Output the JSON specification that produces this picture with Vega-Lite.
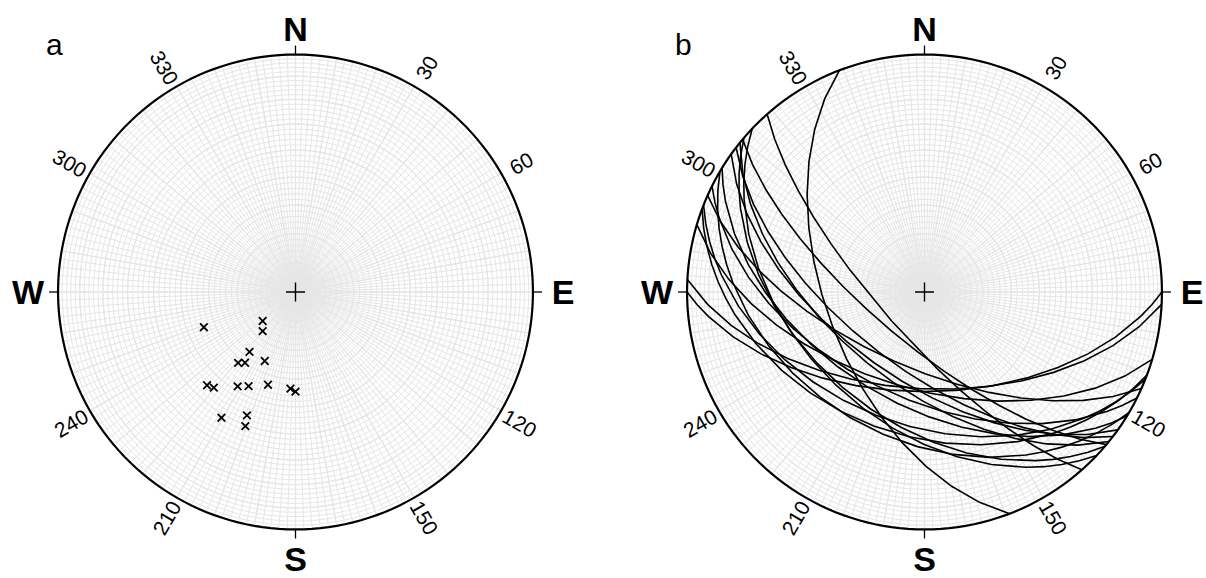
{
  "$schema": "https://vega.github.io/schema/vega-lite/v6.json",
  "padding": 0,
  "spacing": 0,
  "bounds": "flush",
  "background": "white",
  "config": {"view": {"stroke": null}, "font": "Liberation Sans"},
  "datasets": {
    "poles": [
      {"trend": 249, "plunge": 56}, {"trend": 228.5, "plunge": 75}, {"trend": 220, "plunge": 72.5},
      {"trend": 217.5, "plunge": 64}, {"trend": 219, "plunge": 58.5}, {"trend": 215.5, "plunge": 60},
      {"trend": 204, "plunge": 64}, {"trend": 223.5, "plunge": 45}, {"trend": 220.5, "plunge": 46},
      {"trend": 211.5, "plunge": 51.5}, {"trend": 206.5, "plunge": 53.5}, {"trend": 196.5, "plunge": 56.5},
      {"trend": 183, "plunge": 56.5}, {"trend": 180, "plunge": 55.5}, {"trend": 210.5, "plunge": 38.5},
      {"trend": 201.5, "plunge": 43.5}, {"trend": 200.5, "plunge": 39.5}
    ],
    "planes": [
      {"type": "Feature", "properties": {"dipdir": 249, "dip": 56}, "geometry": {"type": "LineString", "coordinates": [[159, 0], [249, 56], [339, 0]]}},
      {"type": "Feature", "properties": {"dipdir": 228.5, "dip": 75}, "geometry": {"type": "LineString", "coordinates": [[138.5, 0], [228.5, 75], [318.5, 0]]}},
      {"type": "Feature", "properties": {"dipdir": 220, "dip": 72.5}, "geometry": {"type": "LineString", "coordinates": [[130, 0], [220, 72.5], [310, 0]]}},
      {"type": "Feature", "properties": {"dipdir": 217.5, "dip": 64}, "geometry": {"type": "LineString", "coordinates": [[127.5, 0], [217.5, 64], [307.5, 0]]}},
      {"type": "Feature", "properties": {"dipdir": 219, "dip": 58.5}, "geometry": {"type": "LineString", "coordinates": [[129, 0], [219, 58.5], [309, 0]]}},
      {"type": "Feature", "properties": {"dipdir": 215.5, "dip": 60}, "geometry": {"type": "LineString", "coordinates": [[125.5, 0], [215.5, 60], [305.5, 0]]}},
      {"type": "Feature", "properties": {"dipdir": 204, "dip": 64}, "geometry": {"type": "LineString", "coordinates": [[114, 0], [204, 64], [294, 0]]}},
      {"type": "Feature", "properties": {"dipdir": 223.5, "dip": 45}, "geometry": {"type": "LineString", "coordinates": [[133.5, 0], [223.5, 45], [313.5, 0]]}},
      {"type": "Feature", "properties": {"dipdir": 220.5, "dip": 46}, "geometry": {"type": "LineString", "coordinates": [[130.5, 0], [220.5, 46], [310.5, 0]]}},
      {"type": "Feature", "properties": {"dipdir": 211.5, "dip": 51.5}, "geometry": {"type": "LineString", "coordinates": [[121.5, 0], [211.5, 51.5], [301.5, 0]]}},
      {"type": "Feature", "properties": {"dipdir": 206.5, "dip": 53.5}, "geometry": {"type": "LineString", "coordinates": [[116.5, 0], [206.5, 53.5], [296.5, 0]]}},
      {"type": "Feature", "properties": {"dipdir": 196.5, "dip": 56.5}, "geometry": {"type": "LineString", "coordinates": [[106.5, 0], [196.5, 56.5], [286.5, 0]]}},
      {"type": "Feature", "properties": {"dipdir": 183, "dip": 56.5}, "geometry": {"type": "LineString", "coordinates": [[93, 0], [183, 56.5], [273, 0]]}},
      {"type": "Feature", "properties": {"dipdir": 180, "dip": 55.5}, "geometry": {"type": "LineString", "coordinates": [[90, 0], [180, 55.5], [270, 0]]}},
      {"type": "Feature", "properties": {"dipdir": 210.5, "dip": 38.5}, "geometry": {"type": "LineString", "coordinates": [[120.5, 0], [210.5, 38.5], [300.5, 0]]}},
      {"type": "Feature", "properties": {"dipdir": 201.5, "dip": 43.5}, "geometry": {"type": "LineString", "coordinates": [[111.5, 0], [201.5, 43.5], [291.5, 0]]}},
      {"type": "Feature", "properties": {"dipdir": 200.5, "dip": 39.5}, "geometry": {"type": "LineString", "coordinates": [[110.5, 0], [200.5, 39.5], [290.5, 0]]}}
    ],
    "cardinal": [
      {"dir": "N", "trend": 0}, {"dir": "E", "trend": 90}, {"dir": "S", "trend": 180}, {"dir": "W", "trend": 270}
    ],
    "degrees": [
      {"deg": 30}, {"deg": 60}, {"deg": 120}, {"deg": 150}, {"deg": 210}, {"deg": 240}, {"deg": 300}, {"deg": 330}
    ],
    "center": [{"trend": 0, "plunge": 90}]
  },
  "hconcat": [
    {
      "width": 629,
      "height": 578,
      "title": {"text": "a", "anchor": "start", "frame": "group", "fontSize": 30, "fontWeight": "normal", "font": "Liberation Sans", "color": "black", "offset": 0, "dx": 46, "dy": 61},
      "projection": {"type": "azimuthalEqualArea", "rotate": [180, -90, 0], "reflectX": true, "clipAngle": 90, "scale": 167.9, "translate": [295.5, 292]},
      "layer": [
        {"data": {"graticule": {"extent": [[-180, 0], [180, 90]], "step": [2, 2]}}, "mark": {"type": "geoshape", "filled": false, "stroke": "#e6e6e6", "strokeWidth": 1}, "encoding": {}},
        {"data": {"graticule": {"extent": [[-180, 0], [180, 90]], "step": [10, 10]}}, "mark": {"type": "geoshape", "filled": false, "stroke": "#e6e6e6", "strokeWidth": 1.3}, "encoding": {}},
        {"data": {"sphere": true}, "mark": {"type": "geoshape", "filled": false, "stroke": "black", "strokeWidth": 2.2}, "encoding": {}},
        {"data": {"name": "cardinal"}, "mark": {"type": "point", "shape": "M0,0L0,-1", "size": 324, "filled": false, "stroke": "black", "strokeWidth": 1.3, "opacity": 1},
         "encoding": {"longitude": {"field": "trend", "type": "quantitative"}, "latitude": {"datum": 0}, "angle": {"field": "trend", "type": "quantitative", "scale": {"domain": [0, 360], "range": [0, 360]}}}},
        {"data": {"name": "cardinal"}, "transform": [{"filter": "datum.trend == 0"}], "mark": {"type": "text", "fontSize": 34, "fontWeight": "bold", "align": "center", "baseline": "middle", "color": "black", "dy": 6},
         "encoding": {"longitude": {"field": "trend", "type": "quantitative"}, "latitude": {"datum": -15.15}, "text": {"field": "dir"}}},
        {"data": {"name": "cardinal"}, "transform": [{"filter": "datum.trend == 180"}], "mark": {"type": "text", "fontSize": 34, "fontWeight": "bold", "align": "center", "baseline": "middle", "color": "black", "dy": 2},
         "encoding": {"longitude": {"field": "trend", "type": "quantitative"}, "latitude": {"datum": -15.15}, "text": {"field": "dir"}}},
        {"data": {"name": "cardinal"}, "transform": [{"filter": "datum.trend % 180 == 90"}], "mark": {"type": "text", "fontSize": 34, "fontWeight": "bold", "align": "center", "baseline": "middle", "color": "black", "dy": 2},
         "encoding": {"longitude": {"field": "trend", "type": "quantitative"}, "latitude": {"datum": -15.6}, "text": {"field": "dir"}}},
        {"data": {"name": "degrees"}, "transform": [{"filter": "datum.deg < 180"}], "mark": {"type": "text", "fontSize": 21, "align": "center", "baseline": "middle", "color": "black", "dy": 3},
         "encoding": {"longitude": {"field": "deg", "type": "quantitative"}, "latitude": {"datum": -11.4}, "text": {"field": "deg", "type": "quantitative"},
           "angle": {"field": "deg", "type": "quantitative", "scale": {"domain": [0, 180], "range": [-90, 90], "zero": false, "nice": false}}}},
        {"data": {"name": "degrees"}, "transform": [{"filter": "datum.deg > 180"}], "mark": {"type": "text", "fontSize": 21, "align": "center", "baseline": "middle", "color": "black", "dy": 3},
         "encoding": {"longitude": {"field": "deg", "type": "quantitative"}, "latitude": {"datum": -11.4}, "text": {"field": "deg", "type": "quantitative"},
           "angle": {"field": "deg", "type": "quantitative", "scale": {"domain": [180, 360], "range": [-90, 90], "zero": false, "nice": false}}}},
        {"data": {"name": "center"}, "mark": {"type": "point", "shape": "M-1,0L1,0M0,-1L0,1", "size": 361, "filled": false, "stroke": "black", "strokeWidth": 1.4, "opacity": 1},
         "encoding": {"longitude": {"field": "trend", "type": "quantitative"}, "latitude": {"field": "plunge", "type": "quantitative"}}},
        {"data": {"name": "poles"}, "mark": {"type": "point", "shape": "M-1,-1L1,1M-1,1L1,-1", "size": 58, "filled": false, "stroke": "black", "strokeWidth": 1.8, "opacity": 1},
         "encoding": {"longitude": {"field": "trend", "type": "quantitative"}, "latitude": {"field": "plunge", "type": "quantitative"}}}
      ],
      "resolve": {"scale": {"angle": "independent"}}
    },
    {
      "width": 577,
      "height": 578,
      "title": {"text": "b", "anchor": "start", "frame": "group", "fontSize": 30, "fontWeight": "normal", "font": "Liberation Sans", "color": "black", "offset": 0, "dx": 46, "dy": 61},
      "projection": {"type": "azimuthalEqualArea", "rotate": [180, -90, 0], "reflectX": true, "clipAngle": 90, "scale": 167.9, "translate": [295.5, 292]},
      "layer": [
        {"data": {"graticule": {"extent": [[-180, 0], [180, 90]], "step": [2, 2]}}, "mark": {"type": "geoshape", "filled": false, "stroke": "#e6e6e6", "strokeWidth": 1}, "encoding": {}},
        {"data": {"graticule": {"extent": [[-180, 0], [180, 90]], "step": [10, 10]}}, "mark": {"type": "geoshape", "filled": false, "stroke": "#e6e6e6", "strokeWidth": 1.3}, "encoding": {}},
        {"data": {"name": "planes"}, "mark": {"type": "geoshape", "filled": false, "stroke": "black", "strokeWidth": 1.6}, "encoding": {}},
        {"data": {"sphere": true}, "mark": {"type": "geoshape", "filled": false, "stroke": "black", "strokeWidth": 2.2}, "encoding": {}},
        {"data": {"name": "cardinal"}, "mark": {"type": "point", "shape": "M0,0L0,-1", "size": 324, "filled": false, "stroke": "black", "strokeWidth": 1.3, "opacity": 1},
         "encoding": {"longitude": {"field": "trend", "type": "quantitative"}, "latitude": {"datum": 0}, "angle": {"field": "trend", "type": "quantitative", "scale": {"domain": [0, 360], "range": [0, 360]}}}},
        {"data": {"name": "cardinal"}, "transform": [{"filter": "datum.trend == 0"}], "mark": {"type": "text", "fontSize": 34, "fontWeight": "bold", "align": "center", "baseline": "middle", "color": "black", "dy": 6},
         "encoding": {"longitude": {"field": "trend", "type": "quantitative"}, "latitude": {"datum": -15.15}, "text": {"field": "dir"}}},
        {"data": {"name": "cardinal"}, "transform": [{"filter": "datum.trend == 180"}], "mark": {"type": "text", "fontSize": 34, "fontWeight": "bold", "align": "center", "baseline": "middle", "color": "black", "dy": 2},
         "encoding": {"longitude": {"field": "trend", "type": "quantitative"}, "latitude": {"datum": -15.15}, "text": {"field": "dir"}}},
        {"data": {"name": "cardinal"}, "transform": [{"filter": "datum.trend % 180 == 90"}], "mark": {"type": "text", "fontSize": 34, "fontWeight": "bold", "align": "center", "baseline": "middle", "color": "black", "dy": 2},
         "encoding": {"longitude": {"field": "trend", "type": "quantitative"}, "latitude": {"datum": -15.6}, "text": {"field": "dir"}}},
        {"data": {"name": "degrees"}, "transform": [{"filter": "datum.deg < 180"}], "mark": {"type": "text", "fontSize": 21, "align": "center", "baseline": "middle", "color": "black", "dy": 3},
         "encoding": {"longitude": {"field": "deg", "type": "quantitative"}, "latitude": {"datum": -11.4}, "text": {"field": "deg", "type": "quantitative"},
           "angle": {"field": "deg", "type": "quantitative", "scale": {"domain": [0, 180], "range": [-90, 90], "zero": false, "nice": false}}}},
        {"data": {"name": "degrees"}, "transform": [{"filter": "datum.deg > 180"}], "mark": {"type": "text", "fontSize": 21, "align": "center", "baseline": "middle", "color": "black", "dy": 3},
         "encoding": {"longitude": {"field": "deg", "type": "quantitative"}, "latitude": {"datum": -11.4}, "text": {"field": "deg", "type": "quantitative"},
           "angle": {"field": "deg", "type": "quantitative", "scale": {"domain": [180, 360], "range": [-90, 90], "zero": false, "nice": false}}}},
        {"data": {"name": "center"}, "mark": {"type": "point", "shape": "M-1,0L1,0M0,-1L0,1", "size": 361, "filled": false, "stroke": "black", "strokeWidth": 1.4, "opacity": 1},
         "encoding": {"longitude": {"field": "trend", "type": "quantitative"}, "latitude": {"field": "plunge", "type": "quantitative"}}}
      ],
      "resolve": {"scale": {"angle": "independent"}}
    }
  ]
}
